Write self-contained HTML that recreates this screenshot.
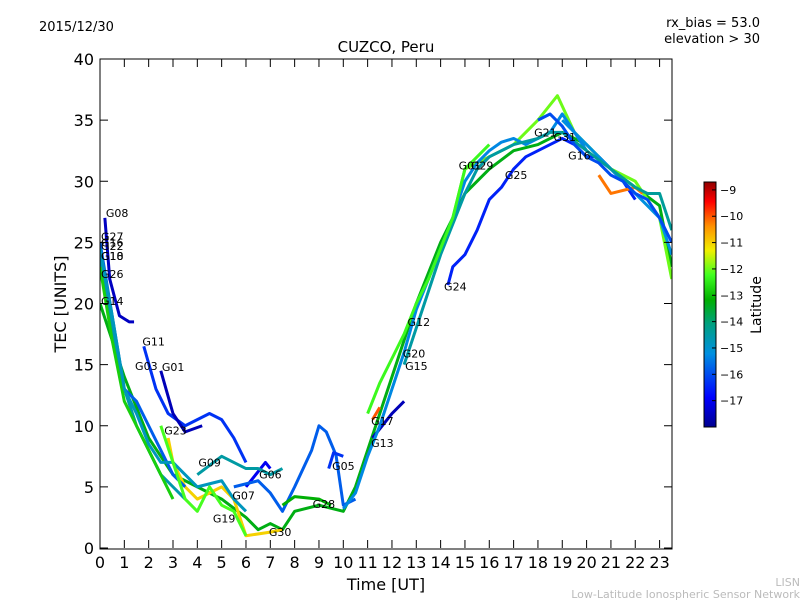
<!DOCTYPE html>
<html><head><meta charset="utf-8"><style>
body{margin:0;background:#fff;font-family:"Liberation Sans","DejaVu Sans",sans-serif}
svg text{font-family:"DejaVu Sans","Liberation Sans",sans-serif}
</style></head><body>
<svg id="c" width="800" height="600">
<defs><linearGradient id="jet" x1="0" y1="1" x2="0" y2="0">
<stop offset="0" stop-color="#00008f"/><stop offset="0.12" stop-color="#0000ff"/><stop offset="0.3" stop-color="#0090e0"/>
<stop offset="0.42" stop-color="#00a080"/><stop offset="0.52" stop-color="#00b000"/><stop offset="0.62" stop-color="#40ff20"/><stop offset="0.72" stop-color="#f0f000"/><stop offset="0.82" stop-color="#ff9000"/><stop offset="0.92" stop-color="#ff0000"/><stop offset="1" stop-color="#900000"/></linearGradient>
<clipPath id="clip"><rect x="100" y="59" width="572" height="490"/></clipPath></defs>
<text x="39" y="31" font-size="13">2015/12/30</text>
<text x="760" y="27" font-size="13" text-anchor="end">rx_bias = 53.0</text>
<text x="760" y="43" font-size="13" text-anchor="end">elevation &gt; 30</text>
<text x="386" y="52" font-size="15" text-anchor="middle">CUZCO, Peru</text>
<g id="marks" clip-path="url(#clip)"></g>
<g id="labels"></g>
<rect x="100" y="59" width="572" height="490" fill="none" stroke="#000"/>
<g id="axes"></g>
<text x="386" y="590" font-size="16" text-anchor="middle">Time [UT]</text>
<text transform="translate(66,304) rotate(-90)" font-size="16" text-anchor="middle">TEC [UNITS]</text>
<rect x="704" y="182" width="12" height="245" fill="url(#jet)" stroke="#000"/>
<g id="cbticks"></g>
<text transform="translate(761,305) rotate(-90)" font-size="14" text-anchor="middle">Latitude</text>
<text x="800" y="586" font-size="11" fill="#bbb" text-anchor="end">LISN</text>
<text x="800" y="598" font-size="11" fill="#bbb" text-anchor="end">Low-Latitude Ionospheric Sensor Network</text>
</svg>
<script>
const xTicks=[0,1,2,3,4,5,6,7,8,9,10,11,12,13,14,15,16,17,18,19,20,21,22,23];
const yTicks=[0,5,10,15,20,25,30,35,40];
const cbTicks=[-9,-10,-11,-12,-13,-14,-15,-16,-17];
const latMin=-18.0, latMax=-8.7;
const seriesNames=["G08","green-main","yellow-peak","G11","G01","orange-low","G06","cyan-wave","G13","G24","teal-late","G09","G28","G05","red-a","red-b","red-c","left-cyan","left-green2","G14","teal-rise","dkgreen-rise","yellow-rise","dkgreen-late","cyan-peak","left-dkgreen","yellow-low"];
const seriesLat=[-17.5,-13.3,-12.0,-16.3,-17.6,-11,-17,-15.8,-17.6,-16.5,-15.2,-14.5,-13.2,-16.3,-10,-10,-10.2,-15.8,-14.6,-12.8,-15.3,-14.5,-12.3,-14.4,-16,-14.8,-12.2];
const seriesT=[
[0.2,0.4,0.8,1.2,1.4],
[0,1,2,3,4,5,6,6.5,7,7.5,8,9,10,10.5,11,12,13,14,15,16,17,18,19,20,21,22,23,23.5],
[14.5,15,16,17,18,18.8,19.5,20,21,22,23,23.5],
[1.8,2.3,2.8,3.5,4,4.5,5,5.5,6],
[2.5,3,3.5,4.2],
[2.8,3,3.5,4,5,5.5,6,7,7.5],
[6,6.8,7],
[5.5,6.5,7,7.5,8,8.7,9,9.3,9.7,10,10.5],
[11.2,12,12.5],
[14.3,14.5,15,15.5,16,16.5,17,17.5,18,18.5,19,19.5,20,20.5,21,21.5,22],
[19,20,21,22,22.5,23,23.5],
[4,5,6,6.5,7,7.5],
[7.5,8,9,9.5],
[9.4,9.6,10],
[11.2,11.5],
[15.5,16],
[20.5,21,22,22.3],
[0,0.5,1,1.5,2,2.5,3,3.5],
[0,0.5,1,1.5,2,2.5,3,3.5],
[0,0.5,1,1.5,2,2.5,3],
[10,10.5,11,11.5,12,12.5,13,13.5,14,14.5,15,15.5,16,16.5,17,17.5,18,18.5,19,19.5,20],
[12.5,13,13.5,14,14.5,15,15.5,16,17,18,18.5,19],
[11,11.5,12,12.5,13,13.5,14,14.5,15,15.5,16],
[19,20,21,22,22.5,23,23.5],
[18,18.5,19,19.5,20,20.5,21,21.5,22,22.5,23,23.5],
[0,0.5,1,1.5,2,2.5,3,3.5,4,5,5.5,6],
[2.5,3,3.5,4,4.5,5,5.5,6]];
const seriesV=[
[27,22,19,18.5,18.5],
[20,14,9,6,5,4,2.5,1.5,2,1.5,3,3.5,3,5,8,14,20,25,29,31,32.5,33,34,33,31,29.5,28,23],
[27,31,32,33,35,37,34,33,31,30,27,22],
[16.5,13,11,10,10.5,11,10.5,9,7],
[14.5,11,9.5,10],
[9,7,5,4,5,4,1,1.3,1.5],
[5,7,6.5],
[5,5.5,4.5,3,5,8,10,9.5,7.6,3.5,4],
[9,11,12],
[21.5,23,24,26,28.5,29.5,31,32,32.5,33,33.5,33,32,32,31,30,28.5],
[35,33,31,29,28,27,24],
[6,7.5,6.5,6.5,6,6.5],
[3.5,4.2,4,3.5],
[6.5,7.8,7.5],
[10.5,11.5],
[31,32],
[30.5,29,29.5,29],
[25,19,13,12,10,8,6,5],
[24,18,13,10,8,6,5,4],
[23,17,12,10,8,6,4],
[3.2,4.5,7.5,10,13,16,19.5,22,24.5,27,30,31.5,32.5,33.2,33.5,33,33.5,34,35.5,34,32.5],
[15,18,21,24,26.5,29,31,32,33,33.5,34,34],
[11,13.5,15.5,17.5,20,22,24.5,27,31,32,33],
[34,32.5,31,29.5,29,29,26],
[35,35.5,34.5,33,32,31.5,30.5,30,29,28.5,27,25],
[24.5,19,13,11,8.5,7,7,6,5,5.5,4,3],
[10,7,4,3,5,3.5,3,1]];
const labelText=["G08","G27","G16","G22","G10","G18","G26","G14","G11","G03","G01","G23","G09","G07","G19","G06","G30","G28","G05","G17","G13","G20","G15","G12","G24","G01","G29","G25","G21","G31","G16"];
const labelT=[0.2,0,0,0,0,0,0,0,1.7,1.4,2.5,2.6,4.0,5.4,4.6,6.5,6.9,8.7,9.5,11.1,11.1,12.4,12.5,12.6,14.1,14.7,15.2,16.6,17.8,18.6,19.2];
const labelV=[27.4,25.5,25.0,24.7,23.9,23.9,22.4,20.2,16.9,14.9,14.8,9.6,7.0,4.3,2.4,6.0,1.3,3.6,6.7,10.4,8.6,15.9,14.9,18.5,21.4,31.3,31.3,30.5,34.0,33.6,32.1];
const X=t=>100+t*24.33, Y=v=>548-v*12.225;
const NS="http://www.w3.org/2000/svg";
const cStops=[[0,[0,0,143]],[0.12,[0,0,255]],[0.3,[0,144,224]],[0.42,[0,160,128]],[0.52,[0,176,0]],[0.62,[64,255,32]],[0.72,[240,240,0]],[0.82,[255,144,0]],[0.92,[255,0,0]],[1,[144,0,0]]];
function jet(l){let f=(l-latMin)/(latMax-latMin);f=Math.max(0,Math.min(1,f));
for(let i=1;i<cStops.length;i++){if(f<=cStops[i][0]){const a=cStops[i-1],b=cStops[i],u=(f-a[0])/(b[0]-a[0]);
return 'rgb('+[0,1,2].map(k=>Math.round(a[1][k]+(b[1][k]-a[1][k])*u)).join(',')+')';}}return 'rgb(144,0,0)';}
const marks=document.getElementById('marks');
seriesNames.forEach((n,i)=>{const p=document.createElementNS(NS,'polyline');
p.setAttribute('points',seriesT[i].map((t,j)=>X(t)+','+Y(seriesV[i][j])).join(' '));
p.setAttribute('fill','none');p.setAttribute('stroke',jet(seriesLat[i]));p.setAttribute('stroke-width','3');p.setAttribute('stroke-linejoin','round');


marks.appendChild(p);});
const lg=document.getElementById('labels');
labelText.forEach((s,i)=>{const t=document.createElementNS(NS,'text');
t.setAttribute('x',X(labelT[i])+1);t.setAttribute('y',Y(labelV[i])+4);t.setAttribute('font-size','11');t.textContent=s;


lg.appendChild(t);});
const ax=document.getElementById('axes');
function add(tag,a,txt){const e=document.createElementNS(NS,tag);for(const k in a)e.setAttribute(k,a[k]);if(txt!==undefined)e.textContent=txt;ax.appendChild(e);return e;}
xTicks.forEach(t=>{add('line',{x1:X(t),x2:X(t),y1:548,y2:540,stroke:'#000'});add('line',{x1:X(t),x2:X(t),y1:59,y2:67,stroke:'#000'});
const e=add('text',{x:X(t),y:568,'font-size':16,'text-anchor':'middle'},t);

});
yTicks.forEach(v=>{add('line',{x1:100,x2:108,y1:Y(v),y2:Y(v),stroke:'#000'});add('line',{x1:664,x2:672,y1:Y(v),y2:Y(v),stroke:'#000'});
const e=add('text',{x:94,y:Y(v)+6,'font-size':16,'text-anchor':'end'},v);

});
const cb=document.getElementById('cbticks');
cbTicks.forEach(l=>{const y=427-(l-latMin)/(latMax-latMin)*245;
const ln=document.createElementNS(NS,'line');ln.setAttribute('x1',712);ln.setAttribute('x2',716);ln.setAttribute('y1',y);ln.setAttribute('y2',y);ln.setAttribute('stroke','#000');cb.appendChild(ln);
const t=document.createElementNS(NS,'text');t.setAttribute('x',720);t.setAttribute('y',y+4);t.setAttribute('font-size','11');t.textContent='\u2212'+(-l);


cb.appendChild(t);});
</script>
</body></html>
